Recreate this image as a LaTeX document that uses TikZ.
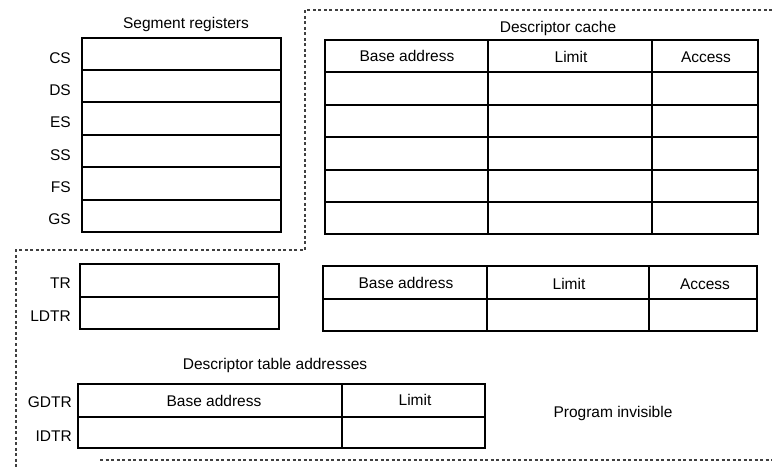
\documentclass[tikz,border=0pt]{standalone}
\usepackage{fontspec}
\setmainfont{Liberation Sans}
\begin{document}
\begin{tikzpicture}[x=1pt,y=-1pt,
  font=\fontsize{15.5}{18}\selectfont,
  box/.style={draw, line width=1.8pt},
  sepline/.style={draw=black!75, line width=1.1pt, dash pattern=on 3pt off 2.5pt},
  lbl/.style={anchor=east, inner sep=0pt},
  txt/.style={inner sep=0pt}]
\useasboundingbox (0,0) rectangle (772,468);
% ---- dashed separators
\coordinate (d1) at (772,10);
\coordinate (d2) at (305,10);
\coordinate (d3) at (305,250);
\coordinate (d4) at (16,250);
\coordinate (d5) at (16,468);
\coordinate (e1) at (100,460);
\coordinate (e2) at (772,460);
\draw[sepline] (d1) -- (d2) -- (d3) -- (d4) -- (d5);
\draw[sepline] (e1) -- (e2);
% ---- segment registers
\node[txt] (segt) at (186,24) {Segment registers};
\draw[box] (82,38) rectangle (281,232);
\foreach \y in {70,102,135,167,200} \draw[box] (82,\y) -- (281,\y);
\node[lbl] (cs) at (71,58) {CS};
\node[lbl] (ds) at (71,90) {DS};
\node[lbl] (es) at (71,122) {ES};
\node[lbl] (ss) at (71,155) {SS};
\node[lbl] (fs) at (71,187) {FS};
\node[lbl] (gs) at (71,219) {GS};
% ---- descriptor cache
\node[txt] (dct) at (558,28) {Descriptor cache};
\draw[box] (325,40) rectangle (758,234);
\foreach \y in {72,105,137,170,202} \draw[box] (325,\y) -- (758,\y);
\draw[box] (488,40) -- (488,234);
\draw[box] (652,40) -- (652,234);
\node[txt] (cba) at (407,56) {Base address};
\node[txt] (clim) at (571,57) {Limit};
\node[txt] (cacc) at (706,57) {Access};
% ---- TR / LDTR
\draw[box] (80,264) rectangle (279,329);
\draw[box] (80,297) -- (279,297);
\node[lbl] (tr) at (71,283) {TR};
\node[lbl] (ldtr) at (71,316) {LDTR};
% ---- second descriptor table
\draw[box] (323,266) rectangle (757,331);
\draw[box] (323,299) -- (757,299);
\draw[box] (487,266) -- (487,331);
\draw[box] (649,266) -- (649,331);
\node[txt] (sba) at (406,283) {Base address};
\node[txt] (slim) at (569,284) {Limit};
\node[txt] (sacc) at (705,284) {Access};
% ---- descriptor table addresses
\node[txt] (dta) at (275,365) {Descriptor table addresses};
\draw[box] (78,384) rectangle (485,448);
\draw[box] (78,417) -- (485,417);
\draw[box] (342,384) -- (342,448);
\node[txt] (gba) at (214,401) {Base address};
\node[txt] (glim) at (415,400) {Limit};
\node[lbl] (gdtr) at (72,402) {GDTR};
\node[lbl] (idtr) at (72,436) {IDTR};
% ---- program invisible
\node[txt] (pinv) at (613,413) {Program invisible};
\end{tikzpicture}
\end{document}
